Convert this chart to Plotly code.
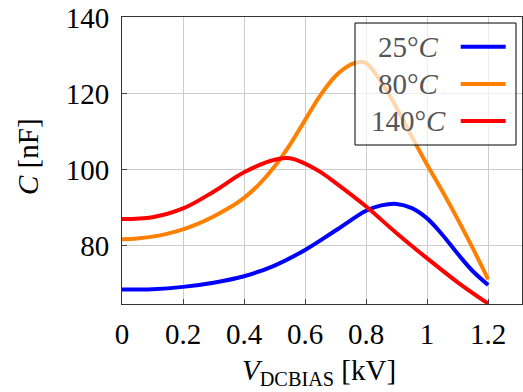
import plotly.graph_objects as go

# ---- data ----
names = ["25°<i>C</i>", "80°<i>C</i>", "140°<i>C</i>"]
colors = ["#0000ff", "#ff8000", "#ff0000"]

x_25 = [0, 0.1, 0.2, 0.3, 0.4, 0.5, 0.6, 0.7, 0.8, 0.85, 0.9, 0.95, 1.0, 1.05, 1.1, 1.15, 1.2]
y_25 = [68.5, 68.6, 69.2, 70.3, 72.0, 74.8, 78.9, 84.0, 89.2, 90.6, 91.0, 89.9, 87.2, 82.9,
        77.9, 73.3, 69.7]

x_80 = [0, 0.05, 0.1, 0.15, 0.2, 0.25, 0.3, 0.35, 0.4, 0.45, 0.5, 0.55, 0.6, 0.65, 0.7,
        0.75, 0.78, 0.8, 0.85, 0.9, 0.95, 1.0, 1.05, 1.1, 1.15, 1.2]
y_80 = [81.7, 81.9, 82.4, 83.2, 84.3, 85.8, 87.7, 89.9, 92.6, 96.2, 100.8, 106.5, 113.0, 119.5,
        124.6, 127.6, 128.3, 128.0, 123.0, 116.2, 108.6, 101.3, 94.3, 87.0, 79.3, 71.2]

x_140 = [0, 0.1, 0.2, 0.3, 0.4, 0.5, 0.55, 0.6, 0.65, 0.7, 0.8, 0.9, 1.0, 1.1, 1.2]
y_140 = [87.0, 87.5, 89.8, 94.2, 99.3, 102.6, 103.0, 101.6, 99.4, 96.5, 90.3, 83.3, 76.7, 70.4, 64.8]

series_x = [x_25, x_80, x_140]
series_y = [y_25, y_80, y_140]

x_ticks = [0, 0.2, 0.4, 0.6, 0.8, 1, 1.2]
x_ticklabels = ["0", "0.2", "0.4", "0.6", "0.8", "1", "1.2"]
y_ticks = [80, 100, 120, 140]
y_ticklabels = ["80", "100", "120", "140"]

FONT = "Liberation Serif"
FS = 29

fig = go.Figure()
for xs, ys, n, c in zip(series_x, series_y, names, colors):
    fig.add_trace(go.Scatter(x=xs, y=ys, name=n, mode="lines",
                             line=dict(color=c, width=4, shape="spline", smoothing=1.0),
                             showlegend=False))

axis_common = dict(showline=True, linecolor="#333333", linewidth=1, mirror=True,
                   showgrid=True, gridcolor="#cccccc", gridwidth=1,
                   ticks="inside", ticklen=5, tickcolor="#444444", automargin=False,
                   zeroline=False, tickfont=dict(family=FONT, size=FS, color="black"))

fig.update_xaxes(range=[0, 1.311], tickvals=x_ticks, ticktext=x_ticklabels,
                 ticklabelstandoff=4, **axis_common)
fig.update_yaxes(range=[64.7, 140.1], tickvals=y_ticks, ticktext=y_ticklabels,
                 ticklabelstandoff=6, **axis_common)

shapes = []
annotations = []
# legend box
lx0, lx1, ly0, ly1 = 0.5825, 0.985, 0.554, 0.979
shapes.append(dict(type="rect", xref="paper", yref="paper", x0=lx0, x1=lx1, y0=ly0, y1=ly1,
                   fillcolor="rgba(255,255,255,0.68)", line=dict(color="black", width=1),
                   layer="above"))
row_y = [(304 - 46.7) / 287, (304 - 84) / 287, (304 - 121) / 287]
for n, c, ry in zip(names, colors, row_y):
    shapes.append(dict(type="line", xref="paper", yref="paper",
                       x0=(460.7 - 122) / 400, x1=(505.7 - 122) / 400, y0=ry, y1=ry,
                       line=dict(color=c, width=4), layer="above"))
    annotations.append(dict(xref="paper", yref="paper", x=(408.7 - 122) / 400, y=ry,
                            text=n, showarrow=False, xanchor="center", yanchor="middle",
                            font=dict(family=FONT, size=FS, color="#555555")))

# axis titles
annotations.append(dict(xref="paper", yref="paper", x=(319 - 122) / 400, y=(304 - 372) / 287,
                        text="<i>V</i><sub>DCBIAS</sub> [kV]", showarrow=False,
                        xanchor="center", yanchor="middle",
                        font=dict(family=FONT, size=FS, color="black")))
annotations.append(dict(xref="paper", yref="paper", x=(28 - 122) / 400, y=(304 - 157) / 287,
                        text="<i>C</i> [nF]", showarrow=False, textangle=-90,
                        xanchor="center", yanchor="middle",
                        font=dict(family=FONT, size=FS, color="black")))

fig.update_layout(width=523, height=392, margin=dict(l=122, r=1, t=17, b=88),
                  plot_bgcolor="white", paper_bgcolor="white",
                  shapes=shapes, annotations=annotations)

fig.write_html("out.html", config={"displayModeBar": False},
               post_script="document.body.style.margin='0';")
